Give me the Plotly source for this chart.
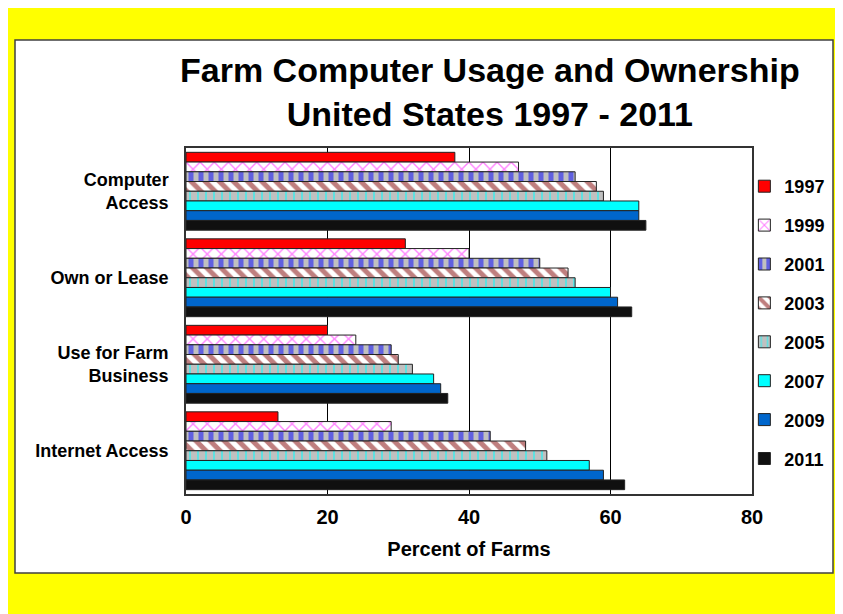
import plotly.graph_objects as go

# ---- data ----
categories = ["Computer Access", "Own or Lease", "Use for Farm Business", "Internet Access"]
category_labels = ["Computer<br>Access", "Own or Lease", "Use for Farm<br>Business", "Internet Access"]
years = ["1997", "1999", "2001", "2003", "2005", "2007", "2009", "2011"]
v1997 = [38, 31, 20, 13]
v1999 = [47, 40, 24, 29]
v2001 = [55, 50, 29, 43]
v2003 = [58, 54, 30, 48]
v2005 = [59, 55, 32, 51]
v2007 = [64, 60, 35, 57]
v2009 = [64, 61, 36, 59]
v2011 = [65, 63, 37, 62]
series = [v1997, v1999, v2001, v2003, v2005, v2007, v2009, v2011]
x_ticks = [0, 20, 40, 60, 80]
title_lines = ["Farm Computer Usage and Ownership", "United States 1997 - 2011"]

# ---- styles ----
styles = [
    dict(color="#FF0000"),
    dict(color="#FFFFFF", pattern=dict(shape="x", fgcolor="#FF00FF", bgcolor="#FFFFFF", size=10, solidity=0.25)),
    dict(color="#C0C0C0", pattern=dict(shape="|", fgcolor="#0000FF", bgcolor="#C0C0C0", size=10, solidity=0.5)),
    dict(color="#FFFFFF", pattern=dict(shape="\\", fgcolor="#800000", bgcolor="#FFFFFF", size=10, solidity=0.5)),
    dict(color="#C0C0C0", pattern=dict(shape="|", fgcolor="#00FFFF", bgcolor="#C0C0C0", size=8, solidity=0.25)),
    dict(color="#00FFFF"),
    dict(color="#0066CC"),
    dict(color="#101010"),
]

FONT = "Arial, Liberation Sans, Helvetica, sans-serif"
W, H = 843, 614

fig = go.Figure()
for yr, vals, st in zip(years, series, styles):
    marker = dict(color=st["color"], line=dict(color="#222222", width=1))
    if "pattern" in st:
        marker["pattern"] = st["pattern"]
    fig.add_trace(go.Bar(
        y=categories, x=vals, name=yr, orientation="h",
        marker=marker, legendgroup=yr,
    ))

# plot area in figure pixels
px0, px1, py0, py1 = 178, 744, 140, 486

fig.update_layout(
    width=W, height=H,
    margin=dict(l=0, r=0, t=0, b=0),
    paper_bgcolor="#FFFF00",
    plot_bgcolor="#FFFFFF",
    barmode="group", bargap=0.1, bargroupgap=0,
    font=dict(family=FONT, color="#000000"),
    showlegend=True,
    legend=dict(
        x=0.8735, xanchor="left", y=1 - 160 / H, yanchor="top",
        traceorder="grouped", tracegroupgap=12.5,
        font=dict(family=FONT, size=18, weight="bold"),
        bgcolor="rgba(0,0,0,0)", borderwidth=0,
    ),
    xaxis=dict(
        domain=[px0 / W, px1 / W],
        range=[0, 80], tickvals=x_ticks, ticktext=[str(t) for t in x_ticks],
        showgrid=True, gridcolor="#000000", gridwidth=1,
        showline=True, mirror=True, linecolor="#333333", linewidth=1.5,
        ticks="", ticklabelstandoff=4,
        tickfont=dict(family=FONT, size=20, weight="bold"),
        title=dict(text="Percent of Farms", font=dict(family=FONT, size=20, weight="bold"), standoff=15),
        zeroline=False, automargin=False,
    ),
    yaxis=dict(
        domain=[1 - py1 / H, 1 - py0 / H],
        type="category", categoryorder="array", categoryarray=categories,
        tickvals=categories, ticktext=category_labels,
        autorange="reversed",
        showgrid=False,
        showline=True, mirror=True, linecolor="#333333", linewidth=1.5,
        ticks="", ticklabelstandoff=12,
        tickfont=dict(family=FONT, size=18, weight="bold"),
        automargin=False,
    ),
    shapes=[dict(
        type="rect", xref="paper", yref="paper", layer="below",
        x0=7 / W, x1=825 / W, y0=1 - 565 / H, y1=1 - 32 / H,
        fillcolor="#FFFFFF", line=dict(color="#404040", width=1.5),
    )],
    annotations=[
        dict(text="<br>".join(title_lines), xref="paper", yref="paper",
             x=482 / W, y=1 - 84 / H, xanchor="center", yanchor="middle", showarrow=False,
             align="center",
             font=dict(family=FONT, size=34, weight="bold", color="#000000")),
    ],
)

fig.write_html("out.html")
